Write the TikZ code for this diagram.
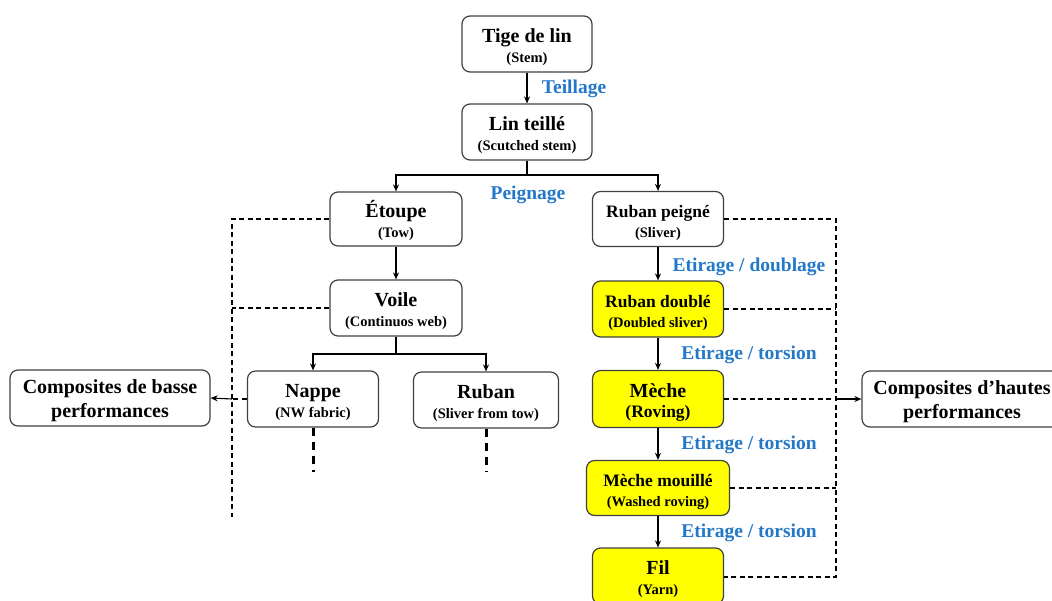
\documentclass[tikz,border=0pt]{standalone}
\usepackage{fontspec}
\setmainfont{Liberation Serif}
\usetikzlibrary{arrows.meta}
\definecolor{boxline}{RGB}{64,64,64}
\definecolor{lblue}{RGB}{35,120,200}
\definecolor{yel}{RGB}{255,255,0}
\newcommand{\mainf}{\fontsize{20}{20}\selectfont\bfseries}
\newcommand{\midf}{\fontsize{17.5}{20}\selectfont\bfseries}
\newcommand{\subf}{\fontsize{14.5}{20}\selectfont\bfseries}
\newcommand{\twol}[2]{\rule{0pt}{21pt}#1\\{\subf #2}}
\tikzset{
  boxnode/.style={draw=boxline, line width=1.2pt, rounded corners=8pt, fill=white,
    align=center, inner sep=0pt, font=\mainf},
  ybox/.style={boxnode, fill=yel},
  arr/.style={-{Stealth[length=7pt,width=6pt]}, line width=1.1pt, black},
  lnk/.style={line width=1.1pt, black},
  dsh/.style={line width=1.1pt, black, dash pattern=on 5pt off 3.5pt},
  thickdsh/.style={line width=3pt, black, dash pattern=on 8pt off 6pt},
  proc/.style={text=lblue, font=\fontsize{19.5}{22}\selectfont\bfseries, inner sep=0pt},
  compbox/.style={boxnode, minimum width=200pt, minimum height=56pt, font=\fontsize{20}{24}\selectfont\bfseries}
}
\begin{document}
\begin{tikzpicture}[x=1pt,y=-1pt]
\useasboundingbox (0,0) rectangle (1052,600);
\clip (0,0) rectangle (1052,600);
% nodes
\node[boxnode, minimum width=130pt, minimum height=56pt] (tige) at (527,44) {\twol{Tige de lin}{(Stem)}};
\node[boxnode, minimum width=130pt, minimum height=56pt] (lin) at (527,132) {\twol{Lin teillé}{(Scutched stem)}};
\node[boxnode, minimum width=132pt, minimum height=54pt] (etoupe) at (396,219) {\twol{Étoupe}{(Tow)}};
\node[boxnode, minimum width=131pt, minimum height=55pt, font=\midf] (peigne) at (658,219) {\twol{Ruban peigné}{(Sliver)}};
\node[boxnode, minimum width=132pt, minimum height=56pt] (voile) at (396,308) {\twol{Voile}{(Continuos web)}};
\node[boxnode, minimum width=131pt, minimum height=56pt] (nappe) at (313,399) {\twol{Nappe}{(NW fabric)}};
\node[boxnode, minimum width=145pt, minimum height=56pt] (ruban) at (486,400) {\twol{Ruban}{(Sliver from tow)}};
\node[ybox, minimum width=131pt, minimum height=56pt, font=\midf] (double) at (658,309) {\twol{Ruban doublé}{(Doubled sliver)}};
\node[ybox, minimum width=131pt, minimum height=57pt] (meche) at (658,399) {\rule{0pt}{21pt}Mèche\\{\fontsize{17.5}{20}\selectfont\bfseries (Roving)}};
\node[ybox, minimum width=143pt, minimum height=55pt, font=\midf] (mouille) at (658,488) {\twol{Mèche mouillé}{(Washed roving)}};
\node[ybox, minimum width=131pt, minimum height=56pt] (fil) at (658,576) {\twol{Fil}{(Yarn)}};
\node[compbox] (basse) at (110,398) {\rule{0pt}{20pt}Composites de basse\\performances};
\node[compbox] (hautes) at (962,399) {\rule{0pt}{20pt}Composites d’hautes\\performances};
% process labels
\node[proc] (teillage) at (574,89) {Teillage};
\node[proc] (peignage) at (528,195) {Peignage};
\node[proc] (et1) at (749,267) {Etirage / doublage};
\node[proc] (et2) at (749,355) {Etirage / torsion};
\node[proc] (et3) at (749,445) {Etirage / torsion};
\node[proc] (et4) at (749,533) {Etirage / torsion};
% junction coordinates
\coordinate (b1) at (527,175);
\coordinate (b2) at (396,354);
\coordinate (L1) at (232,219);
\coordinate (L2) at (232,308);
\coordinate (L3) at (232,399);
\coordinate (Lend) at (232,517);
\coordinate (nEnd) at (313,472);
\coordinate (rEnd) at (486,472);
\coordinate (R1) at (836,219);
\coordinate (R2) at (836,309);
\coordinate (R3) at (836,399);
\coordinate (R4) at (836,488);
\coordinate (R5) at (836,577);
% solid connectors
\draw[arr] (tige) -- (lin);
\draw[lnk] (lin.south) -- (b1);
\draw[arr] (b1) -| (etoupe.north);
\draw[arr] (b1) -| (peigne.north);
\draw[arr] (etoupe) -- (voile);
\draw[lnk] (voile.south) -- (b2);
\draw[arr] (b2) -| (nappe.north);
\draw[arr] (b2) -| (ruban.north);
\draw[arr] (peigne) -- (double);
\draw[arr] (double) -- (meche);
\draw[arr] (meche) -- (mouille);
\draw[arr] (mouille) -- (fil);
% left dashed
\draw[dsh] (etoupe.west) -- (L1) -- (Lend);
\draw[dsh] (voile.west) -- (L2);
\draw[dsh] (nappe.west) -- (L3);
\draw[arr] (L3) -- (basse.east);
\draw[thickdsh] (nappe.south) -- (nEnd);
\draw[thickdsh] (ruban.south) -- (rEnd);
% right dashed
\draw[dsh] (peigne.east) -- (R1) -- (R5) -- (fil.east |- R5);
\draw[dsh] (double.east) -- (R2);
\draw[dsh] (meche.east) -- (R3);
\draw[dsh] (mouille.east) -- (R4);
\draw[arr] (R3) -- (hautes.west);
\end{tikzpicture}
\end{document}
